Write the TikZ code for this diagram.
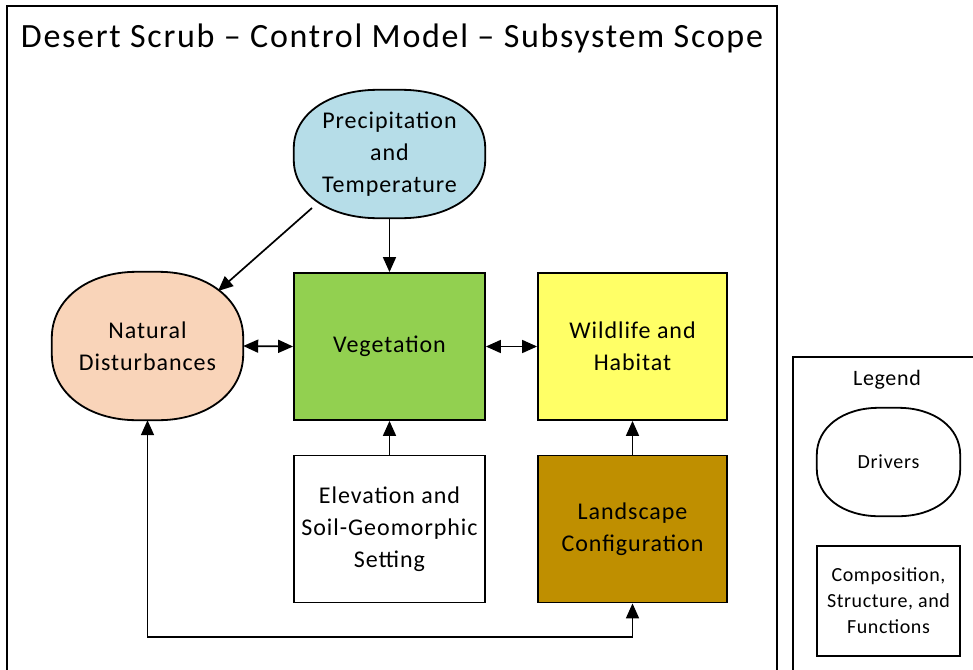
\documentclass[tikz,border=0pt]{standalone}
\usepackage{fontspec}
\setmainfont{Carlito}
\usetikzlibrary{arrows.meta,calc,backgrounds}
% rounded oval outline around a node: name, fill, x radius, y radius (Bezier corners)
\newcommand\ovaloutline[4]{%
  \path[draw=black,line width=1.8pt,fill=#2]
    ($(#1.north west)+(#3pt,0pt)$) -- ($(#1.north east)+(-#3pt,0pt)$)
    .. controls ($(#1.north east)+(-0.42*#3pt,0pt)$) and ($(#1.north east)+(0pt,-0.42*#4pt)$) ..
    ($(#1.north east)+(0pt,-#4pt)$)
    -- ($(#1.south east)+(0pt,#4pt)$)
    .. controls ($(#1.south east)+(0pt,0.42*#4pt)$) and ($(#1.south east)+(-0.42*#3pt,0pt)$) ..
    ($(#1.south east)+(-#3pt,0pt)$)
    -- ($(#1.south west)+(#3pt,0pt)$)
    .. controls ($(#1.south west)+(0.42*#3pt,0pt)$) and ($(#1.south west)+(0pt,0.42*#4pt)$) ..
    ($(#1.south west)+(0pt,#4pt)$)
    -- ($(#1.north west)+(0pt,-#4pt)$)
    .. controls ($(#1.north west)+(0pt,-0.42*#4pt)$) and ($(#1.north west)+(0.42*#3pt,0pt)$) ..
    ($(#1.north west)+(#3pt,0pt)$)
    -- cycle;}
\begin{document}
\begin{tikzpicture}[x=1pt,y=-1pt,
  txt/.style={font=\addfontfeatures{LetterSpace=4}\fontsize{24}{32}\selectfont},
  box/.style={draw=black,line width=1.8pt,minimum width=191pt,minimum height=147pt,inner sep=0pt,align=center,txt},
  driver/.style={minimum width=191pt,inner sep=0pt,align=center,txt},
  conn/.style={line width=1.7pt,-{Triangle[length=15pt,width=13pt]}},
  biconn/.style={line width=1.7pt,{Triangle[length=15pt,width=13pt]}-{Triangle[length=15pt,width=13pt]}},
]
\useasboundingbox (0,0) rectangle (973,669);
\begin{scope}
\clip (0,0) rectangle (973,669);
% outer frame and legend frame
\draw[line width=1.6pt] (7,6) rectangle (777,700);
\draw[line width=1.6pt] (793,357) rectangle (1000,700);
\end{scope}
\node (title) at (392,38) {\addfontfeatures{LetterSpace=5}\fontsize{34}{38}\selectfont Desert Scrub -- Control Model -- Subsystem Scope};

% drivers
\node[driver,minimum height=128pt] (precip) at (389.5,154) {Precipitation\\and\\Temperature};
\node[driver,minimum height=148pt] (natural) at (147.5,346) {Natural\\Disturbances};
\begin{scope}[on background layer]
\ovaloutline{precip}{{rgb,255:red,182;green,221;blue,232}}{84}{58}
\ovaloutline{natural}{{rgb,255:red,249;green,212;blue,185}}{85}{66}
\end{scope}

% components
\node[box,fill={rgb,255:red,146;green,208;blue,80}] (veg) at (389.5,346.5) {Vegetation};
\node[box,fill={rgb,255:red,255;green,255;blue,102},minimum width=189pt] (wild) at (632.5,346.5) {Wildlife and\\Habitat};
\node[box,fill=white] (elev) at (389.5,529) {Elevation and\\Soil-Geomorphic\\Setting};
\node[box,fill={rgb,255:red,191;green,143;blue,0},minimum width=189pt] (land) at (632.5,529) {Landscape\\Configuration};

% legend
\node (legtitle) at (887,380) {\addfontfeatures{LetterSpace=3}\fontsize{22}{26}\selectfont Legend};
\node[minimum width=143pt,minimum height=108pt,inner sep=0pt,
  font=\addfontfeatures{LetterSpace=4}\fontsize{20}{24}\selectfont] (legdrv) at (888.5,462) {Drivers};
\begin{scope}[on background layer]
\ovaloutline{legdrv}{white}{62}{47}
\end{scope}
\node[draw,line width=1.6pt,minimum width=143pt,minimum height=110pt,inner sep=0pt,align=center,
  font=\addfontfeatures{LetterSpace=3}\fontsize{20}{26}\selectfont] (legbox) at (888.5,601) {Composition,\\Structure, and\\Functions};

% connectors
\coordinate (pa) at (312,208);
\coordinate (pb) at (218,291);
\draw[conn] (precip.south) -- (veg.north);
\draw[conn] (pa) -- (pb);
\draw[biconn] (natural.east) -- (veg.west);
\draw[biconn] (veg.east) -- (wild.west);
\draw[conn] (elev.north) -- (veg.south);
\draw[conn] (land.north) -- (wild.south);
\coordinate (lowl) at (147.5,637);
\coordinate (lowr) at (632.5,637);
\draw[biconn] (natural.south) -- (lowl) -- (lowr) -- (land.south);
\end{tikzpicture}
\end{document}
